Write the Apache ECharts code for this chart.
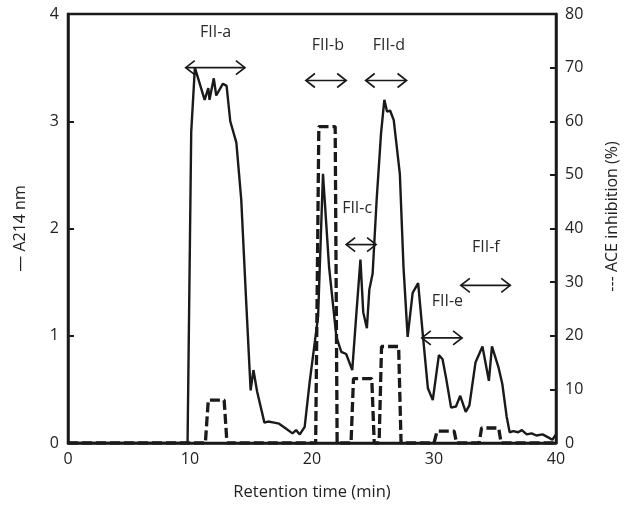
<!DOCTYPE html>
<html>
<head>
<meta charset="utf-8">
<script src="https://cdn.jsdelivr.net/npm/echarts@6/dist/echarts.min.js"></script>
<style>
html,body{margin:0;padding:0;background:#fff;}
#chart{width:628px;height:507px;}
</style>
</head>
<body>
<div id="chart"></div>
<script>
// Absorbance at 214 nm (left axis)
const a214Time = [0, 9.8, 10.1, 10.4, 11.2, 11.5, 11.6, 11.95, 12.15, 12.7, 13.0, 13.3, 13.8, 14.2, 14.6, 14.97, 15.2, 15.5, 16.1, 16.4, 16.9, 17.3, 17.8, 18.4, 18.7, 19.0, 19.4, 19.8, 20.5, 20.9, 21.4, 22.0, 22.4, 22.8, 23.3, 23.6, 23.97, 24.2, 24.5, 24.7, 24.97, 25.3, 25.66, 25.93, 26.15, 26.4, 26.7, 27.2, 27.5, 27.84, 28.25, 28.7, 29.1, 29.5, 29.9, 30.4, 30.7, 31.0, 31.4, 31.8, 32.15, 32.6, 32.9, 33.4, 33.97, 34.5, 34.75, 35.3, 35.6, 35.95, 36.2, 36.5, 36.9, 37.2, 37.6, 38.0, 38.4, 38.9, 39.4, 39.7, 40];
const a214Value = [0, 0, 2.9, 3.5, 3.2, 3.31, 3.2, 3.40, 3.24, 3.35, 3.33, 3.0, 2.8, 2.27, 1.33, 0.49, 0.68, 0.48, 0.19, 0.2, 0.19, 0.18, 0.14, 0.09, 0.12, 0.08, 0.15, 0.56, 1.18, 2.51, 1.64, 0.99, 0.85, 0.83, 0.68, 1.15, 1.71, 1.22, 1.07, 1.43, 1.58, 2.27, 2.89, 3.20, 3.09, 3.10, 3.01, 2.51, 1.64, 0.99, 1.40, 1.49, 0.99, 0.51, 0.40, 0.82, 0.78, 0.6, 0.33, 0.34, 0.44, 0.29, 0.35, 0.75, 0.9, 0.58, 0.9, 0.7, 0.55, 0.25, 0.1, 0.11, 0.1, 0.12, 0.08, 0.09, 0.07, 0.08, 0.05, 0.03, 0.08];

// ACE inhibition % (right axis)
const aceTime = [0, 11.26, 11.5, 12.8, 13.03, 20.3, 20.56, 21.9, 22.06, 23.2, 23.4, 24.9, 25.1, 25.5, 25.7, 27.1, 27.3, 30.0, 30.25, 31.65, 31.85, 33.7, 33.9, 35.3, 35.5, 40];
const aceValue = [0, 0, 8, 8, 0, 0, 59, 59, 0, 0, 12, 12, 0, 0, 18, 18, 0, 0, 2.2, 2.2, 0, 0, 2.8, 2.8, 0, 0];

// Fraction annotations
const fracLabels = ['FII-a', 'FII-b', 'FII-c', 'FII-d', 'FII-e', 'FII-f'];
const fracStart = [9.65, 19.5, 22.8, 24.4, 29.0, 32.2];
const fracEnd = [14.5, 22.8, 25.25, 27.75, 32.3, 36.25];
const fracArrowY = [3.5, 3.38, 1.85, 3.38, 0.98, 1.47];
const fracLabelX = [12.1, 21.3, 23.7, 26.3, 31.1, 34.25];
const fracLabelY = [3.83, 3.71, 2.19, 3.71, 1.32, 1.82];

const xTicks = [0, 10, 20, 30, 40];

const FONT = 'Open Sans';
const INK = '#1a1a1a';

const chart = echarts.init(document.getElementById('chart'), null, {renderer: 'canvas'});

const a214Data = a214Time.map((t, i) => [t, a214Value[i]]);
const aceData = aceTime.map((t, i) => [t, aceValue[i]]);
const fracData = fracLabels.map((l, i) => [fracStart[i], fracEnd[i], fracArrowY[i], fracLabelX[i], fracLabelY[i]]);

function renderArrow(params, api) {
  const i = params.dataIndex;
  const p1 = api.coord([api.value(0), api.value(2)]);
  const p2 = api.coord([api.value(1), api.value(2)]);
  const pl = api.coord([api.value(3), api.value(4)]);
  const h = 7, w = 9;
  const style = {stroke: INK, lineWidth: 1.7, fill: null};
  return {
    type: 'group',
    children: [
      {type: 'line', shape: {x1: p1[0], y1: p1[1], x2: p2[0], y2: p2[1]}, style: style},
      {type: 'polyline', shape: {points: [[p1[0] + w, p1[1] - h], [p1[0], p1[1]], [p1[0] + w, p1[1] + h]]}, style: style},
      {type: 'polyline', shape: {points: [[p2[0] - w, p2[1] - h], [p2[0], p2[1]], [p2[0] - w, p2[1] + h]]}, style: style},
      {type: 'text', x: pl[0], y: pl[1], style: {text: fracLabels[i], fill: '#2a2a2a', font: '16px "' + FONT + '"', align: 'center', verticalAlign: 'middle'}}
    ]
  };
}

const axisCommon = {
  axisLine: {show: true, lineStyle: {color: INK, width: 2.5}},
  axisTick: {show: true, inside: true, length: 6, lineStyle: {color: INK, width: 2}},
  splitLine: {show: false},
  axisLabel: {color: '#222', fontFamily: FONT, fontSize: 16}
};

chart.setOption({
  animation: false,
  backgroundColor: '#fff',
  grid: {left: 68, right: 71, top: 14, bottom: 64, show: true, borderColor: INK, borderWidth: 2.5, backgroundColor: 'transparent'},
  xAxis: Object.assign({}, axisCommon, {
    type: 'value', min: xTicks[0], max: xTicks[xTicks.length - 1], interval: 10,
    axisTick: {show: false},
    axisLabel: {color: '#222', fontFamily: FONT, fontSize: 16, margin: 8},
    name: 'Retention time (min)', nameLocation: 'middle', nameGap: 41,
    nameTextStyle: {color: '#222', fontFamily: FONT, fontSize: 16.5}
  }),
  yAxis: [
    Object.assign({}, axisCommon, {
      type: 'value', min: 0, max: 4, interval: 1, position: 'left',
      axisLabel: {color: '#222', fontFamily: FONT, fontSize: 16, margin: 9},
      name: '\u2014 A214 nm', nameLocation: 'middle', nameGap: 40, nameRotate: 90,
      nameTextStyle: {color: '#222', fontFamily: FONT, fontSize: 16}
    }),
    Object.assign({}, axisCommon, {
      type: 'value', min: 0, max: 80, interval: 10, position: 'right',
      axisLabel: {color: '#222', fontFamily: FONT, fontSize: 16, margin: 9},
      name: '--- ACE inhibition (%)', nameLocation: 'middle', nameGap: 48, nameRotate: 90,
      nameTextStyle: {color: '#222', fontFamily: FONT, fontSize: 16, padding: [0, 0, 0, 24]}
    })
  ],
  series: [
    {
      type: 'line', name: 'A214', yAxisIndex: 0, data: a214Data, showSymbol: false,
      lineStyle: {color: INK, width: 2.4}, z: 3
    },
    {
      type: 'line', name: 'ACE', yAxisIndex: 1, data: aceData, showSymbol: false,
      lineStyle: {color: INK, width: 3.3, type: [10, 4]}, z: 2
    },
    {
      type: 'custom', name: 'fractions', yAxisIndex: 0, data: fracData,
      encode: {x: [0, 1], y: 2}, renderItem: renderArrow, clip: false, z: 4
    }
  ]
});
</script>
</body>
</html>
